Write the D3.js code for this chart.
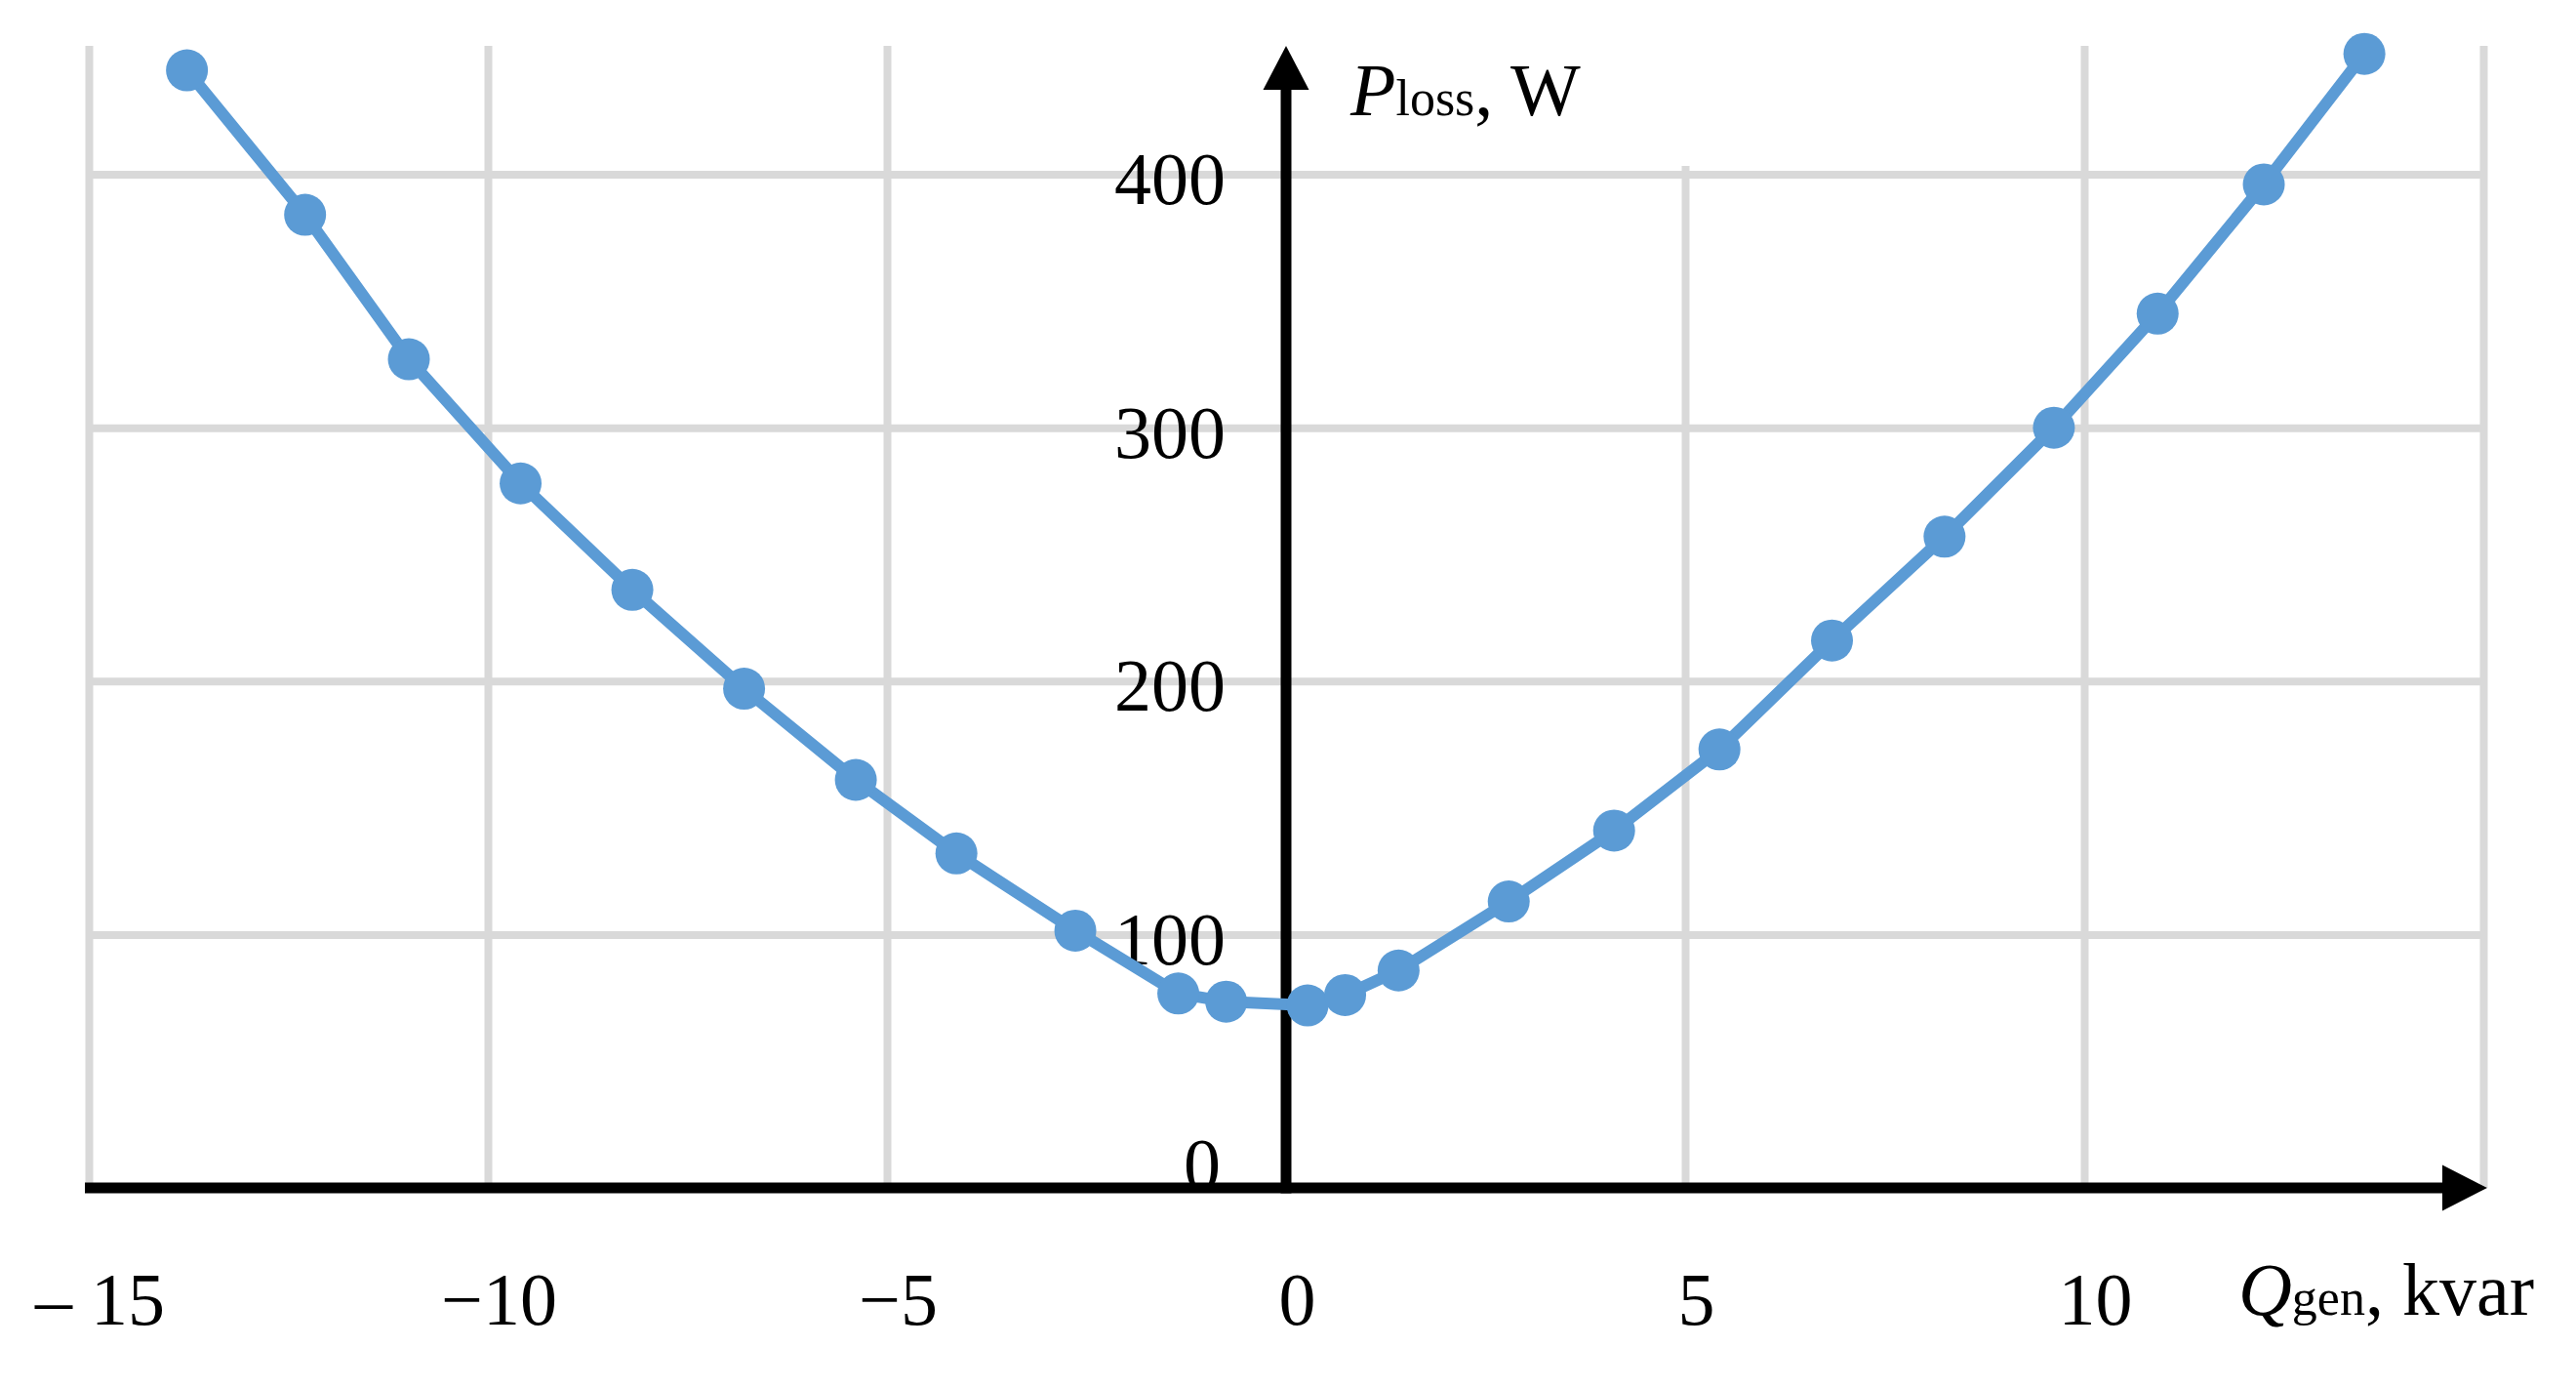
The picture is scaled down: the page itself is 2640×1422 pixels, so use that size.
<!DOCTYPE html>
<html>
<head>
<meta charset="utf-8">
<script src="https://cdn.jsdelivr.net/npm/d3@7"></script>
<style>
  html, body { margin: 0; padding: 0; background: #ffffff; }
  svg { display: block; }
</style>
</head>
<body>
<svg id="chart" width="2640" height="1422"></svg>
<script>
// ---- data ----
const qGen  = [-13.77, -12.29, -10.99, -9.59, -8.19, -6.79, -5.39, -4.13, -2.64, -1.35, -0.75, 0.27, 0.74, 1.41, 2.79, 4.11, 5.43, 6.84, 8.25, 9.62, 10.92, 12.25, 13.51];
const pLoss = [441, 384, 327, 278, 236, 197, 161, 132, 101.5, 76.7, 73.5, 72, 76.1, 85.8, 113, 141, 173, 216, 257, 300, 345, 396, 447.5];

const xTicks = [-15, -10, -5, 0, 5, 10];
const xTickLabels = ["– 15", "−10", "−5", "0", "5", "10"];
const xGrid = [-15, -10, -5, 5, 10, 15];
const yTicks = [0, 100, 200, 300, 400];
const yTickLabels = ["0", "100", "200", "300", "400"];
const yGrid = [100, 200, 300, 400];

// ---- layout ----
const W = 2640, H = 1422;
const FONT = "'Liberation Serif', 'Times New Roman', serif";
const x = d3.scaleLinear().domain([-15, 15]).range([91, 2545]);
const y = d3.scaleLinear().domain([0, 400]).range([1217, 178.5]);
const gridTop = 47;
const blue = "#5b9bd5";
const gridColor = "#d9d9d9";

const svg = d3.select("#chart");
svg.append("rect").attr("width", W).attr("height", H).attr("fill", "#fff");

// gridlines
const gx = svg.append("g")
  .attr("transform", `translate(0,${y(0)})`)
  .call(d3.axisBottom(x).tickValues(xGrid).tickSize(-(y(0) - gridTop)).tickFormat(""));
gx.select(".domain").remove();
gx.selectAll("line").attr("stroke", gridColor).attr("stroke-width", 8);

const gy = svg.append("g")
  .attr("transform", `translate(${x(-15)},0)`)
  .call(d3.axisLeft(y).tickValues(yGrid).tickSize(-(x(15) - x(-15))).tickFormat(""));
gy.select(".domain").remove();
gy.selectAll("line").attr("stroke", gridColor).attr("stroke-width", 8);

// white box behind the y-axis title
svg.append("rect").attr("x", 1380).attr("y", 30).attr("width", 370).attr("height", 140).attr("fill", "#fff");

// y tick labels
const ay = svg.append("g")
  .attr("transform", `translate(1256,0)`)
  .call(d3.axisLeft(y).tickValues(yTicks).tickSize(0).tickPadding(0)
        .tickFormat((d, i) => yTickLabels[i]));
ay.select(".domain").remove();
ay.selectAll("text")
  .attr("x", d => d === 0 ? -5 : 0)
  .attr("dy", 0)
  .attr("y", d => d === 0 ? 1 : 30)
  .attr("font-family", FONT).attr("font-size", 76).attr("fill", "#000");

// x tick labels
const ax = svg.append("g")
  .attr("transform", `translate(11,1357)`)
  .call(d3.axisBottom(x).tickValues(xTicks).tickSize(0).tickPadding(0)
        .tickFormat((d, i) => xTickLabels[i]));
ax.select(".domain").remove();
ax.selectAll("text")
  .attr("y", 0).attr("dy", 0)
  .attr("font-family", FONT).attr("font-size", 76).attr("fill", "#000");

// axes lines with arrows
const axisG = svg.append("g");
axisG.append("line")
  .attr("x1", 87).attr("x2", 2505).attr("y1", y(0)).attr("y2", y(0))
  .attr("stroke", "#000").attr("stroke-width", 11);
axisG.append("path")
  .attr("d", `M${x(15) + 4},${y(0)} L2503,${y(0) - 23.5} L2503,${y(0) + 23.5} Z`)
  .attr("fill", "#000");
axisG.append("line")
  .attr("x1", x(0)).attr("x2", x(0)).attr("y1", y(0) + 5.5).attr("y2", 90)
  .attr("stroke", "#000").attr("stroke-width", 11);
axisG.append("path")
  .attr("d", `M${x(0)},47 L${x(0) - 23.5},92 L${x(0) + 23.5},92 Z`)
  .attr("fill", "#000");

// axis titles
const pt = svg.append("text")
  .attr("x", 1384).attr("y", 118)
  .attr("font-family", FONT).attr("font-size", 76).attr("fill", "#000");
pt.append("tspan").attr("font-style", "italic").text("P");
pt.append("tspan").attr("font-size", 52).text("loss");
pt.append("tspan").text(", W");

const qt = svg.append("text")
  .attr("x", 2597).attr("y", 1347).attr("text-anchor", "end")
  .attr("font-family", FONT).attr("font-size", 76).attr("fill", "#000");
qt.append("tspan").attr("font-style", "italic").text("Q");
qt.append("tspan").attr("font-size", 52).text("gen");
qt.append("tspan").text(", kvar");

// data series
const pts = qGen.map((q, i) => [q, pLoss[i]]);
svg.append("path")
  .datum(pts)
  .attr("fill", "none")
  .attr("stroke", blue)
  .attr("stroke-width", 12)
  .attr("stroke-linejoin", "round")
  .attr("d", d3.line().x(d => x(d[0])).y(d => y(d[1])));

svg.append("g").selectAll("circle")
  .data(pts)
  .join("circle")
  .attr("cx", d => x(d[0]))
  .attr("cy", d => y(d[1]))
  .attr("r", 21.5)
  .attr("fill", blue);
</script>
</body>
</html>
